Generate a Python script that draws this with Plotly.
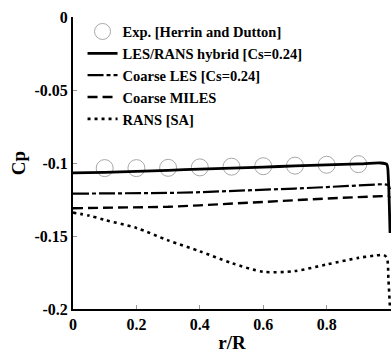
import plotly.graph_objects as go

# Experimental pressure coefficient (Herrin and Dutton)
exp_r = [0.1, 0.2, 0.3, 0.4, 0.5, 0.6, 0.7, 0.8, 0.9]
exp_cp = [-0.1035, -0.1035, -0.1033, -0.1030, -0.1025, -0.1022, -0.1018, -0.1012, -0.1008]

# LES/RANS hybrid [Cs=0.24]
hyb_r = [0.0, 0.1, 0.2, 0.3, 0.4, 0.5, 0.6, 0.7, 0.8, 0.9, 0.97, 0.99, 0.995, 1.0]
hyb_cp = [-0.1068, -0.1064, -0.1058, -0.1050, -0.1042, -0.1035, -0.1028, -0.1020, -0.1013, -0.1006, -0.1000, -0.1010, -0.112, -0.148]

# Coarse LES [Cs=0.24]
les_r = [0.0, 0.1, 0.2, 0.3, 0.4, 0.5, 0.6, 0.7, 0.8, 0.9, 0.98, 0.995, 1.0]
les_cp = [-0.1210, -0.1210, -0.1208, -0.1205, -0.1200, -0.1193, -0.1185, -0.1175, -0.1165, -0.1155, -0.1145, -0.1150, -0.118]

# Coarse MILES
miles_r = [0.0, 0.1, 0.2, 0.3, 0.4, 0.5, 0.6, 0.7, 0.8, 0.9, 0.98, 0.995, 1.0]
miles_cp = [-0.1310, -0.1308, -0.1305, -0.1300, -0.1290, -0.1280, -0.1268, -0.1255, -0.1243, -0.1232, -0.1222, -0.1225, -0.124]

# RANS [SA]
rans_r = [0.0, 0.05, 0.1, 0.2, 0.3, 0.4, 0.5, 0.6, 0.7, 0.8, 0.9, 0.95, 0.98, 0.99, 0.995, 1.0]
rans_cp = [-0.1340, -0.1360, -0.1390, -0.1445, -0.1530, -0.1605, -0.1685, -0.1745, -0.1740, -0.1695, -0.1650, -0.1635, -0.1630, -0.1650, -0.180, -0.200]

x_ticks = [0, 0.2, 0.4, 0.6, 0.8, 1]
x_labels = ["0", "0.2", "0.4", "0.6", "0.8", "1"]
y_ticks = [0, -0.05, -0.1, -0.15, -0.2]
y_labels = ["0", "-0.05", "-0.1", "-0.15", "-0.2"]

FONT = "Liberation Serif"


def bold(s):
    return "<b>" + s + "</b>"


fig = go.Figure()
fig.add_trace(go.Scatter(
    x=exp_r, y=exp_cp, mode="markers", name=bold("Exp. [Herrin and Dutton]"),
    marker=dict(symbol="circle-open", size=17, color="#a8a8a8", line=dict(width=1, color="#a8a8a8")),
    cliponaxis=False,
))
fig.add_trace(go.Scatter(
    x=hyb_r, y=hyb_cp, mode="lines", name=bold("LES/RANS hybrid [Cs=0.24]"),
    line=dict(color="black", width=2.8, shape="spline", smoothing=0.6),
))
fig.add_trace(go.Scatter(
    x=les_r, y=les_cp, mode="lines", name=bold("Coarse LES [Cs=0.24]"),
    line=dict(color="black", width=2.2, dash="16px,3px,4px,3px"),
))
fig.add_trace(go.Scatter(
    x=miles_r, y=miles_cp, mode="lines", name=bold("Coarse MILES"),
    line=dict(color="black", width=2.4, dash="10px,5px"),
))
fig.add_trace(go.Scatter(
    x=rans_r, y=rans_cp, mode="lines", name=bold("RANS [SA]"),
    line=dict(color="black", width=2.6, dash="3px,4px", shape="spline", smoothing=0.8),
))

fig.update_layout(
    width=392, height=354,
    margin=dict(l=73, r=1, t=17, b=45),
    paper_bgcolor="white", plot_bgcolor="white",
    font=dict(family=FONT, color="black"),
    showlegend=True,
    legend=dict(
        x=0.03, y=1.005, xanchor="left", yanchor="top",
        bgcolor="rgba(0,0,0,0)", tracegroupgap=0,
        font=dict(family=FONT, size=14.5, color="black"),
        itemwidth=30,
    ),
    xaxis=dict(
        range=[0, 1.003], tickvals=x_ticks,
        ticktext=[bold(t) for t in x_labels],
        showgrid=False, zeroline=False,
        showline=True, linecolor="black", linewidth=2,
        ticks="inside", ticklen=4, tickcolor="#999999", tickwidth=1,
        tickfont=dict(family=FONT, size=16),
        title=dict(text=bold("r/R"), font=dict(family=FONT, size=19), standoff=3),
    ),
    yaxis=dict(
        range=[-0.2, 0], tickvals=y_ticks,
        ticktext=[bold(t) for t in y_labels],
        showgrid=False, zeroline=False,
        showline=True, linecolor="black", linewidth=2,
        ticks="inside", ticklen=4, tickcolor="#999999", tickwidth=1,
        tickfont=dict(family=FONT, size=16),
        title=dict(text=bold("Cp"), font=dict(family=FONT, size=19), standoff=4),
    ),
)

fig.write_html("out.html")
